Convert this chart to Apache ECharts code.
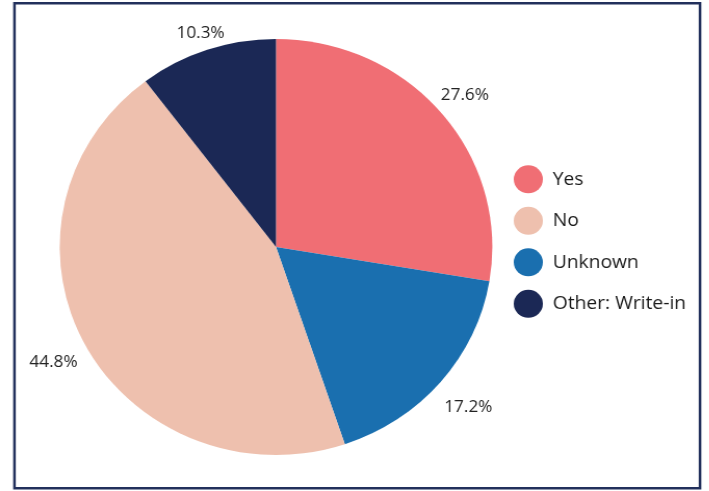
<!DOCTYPE html>
<html>
<head>
<meta charset="utf-8">
<script src="https://cdn.jsdelivr.net/npm/echarts@6/dist/echarts.min.js"></script>
<style>
  html, body { margin: 0; padding: 0; background: #ffffff; overflow: hidden; }
  /* the figure is drawn slightly narrower and widened to full width */
  #chart { width: 682px; height: 491px; transform: scaleX(1.04); transform-origin: 0 0; }
</style>
</head>
<body>
<div id="chart"></div>
<script>
// Slices in clockwise order starting from 12 o'clock
const categories = ['Yes', 'Unknown', 'No', 'Other: Write-in'];
const shares = [27.6, 17.2, 44.8, 10.3];
const colors = ['#F06E74', '#1A6FAF', '#EEC0AE', '#1B2855'];
// Legend reading order
const legendOrder = ['Yes', 'No', 'Unknown', 'Other: Write-in'];
// Radial offset of each percentage label beyond the rim
const labelOffsets = [30, 35, 34, 20];

const total = shares.reduce((a, b) => a + b, 0);
const midFractions = [];
let acc = 0;
shares.forEach(v => { midFractions.push((acc + v / 2) / total); acc += v; });

const chart = echarts.init(document.getElementById('chart'), null, { renderer: 'canvas' });

chart.setOption({
  animation: false,
  color: colors,
  textStyle: { fontFamily: 'Open Sans' },
  graphic: [{
    type: 'rect',
    shape: { x: 13.9, y: 3.25, width: 659.2, height: 485 },
    style: { fill: 'none', stroke: '#22305C', lineWidth: 2.5 },
    silent: true
  }],
  legend: {
    data: legendOrder,
    orient: 'vertical',
    left: 489,
    top: 160.3,
    icon: 'circle',
    itemWidth: 28,
    itemHeight: 28,
    itemGap: 13.5,
    textStyle: {
      fontFamily: 'Open Sans',
      fontSize: 18.5,
      color: '#1a1a1a',
      padding: [0, 0, 0, 4.5]
    }
  },
  series: [{
    type: 'pie',
    center: [265.4, 247],
    radius: 208,
    startAngle: 90,
    clockwise: true,
    avoidLabelOverlap: false,
    itemStyle: { borderWidth: 0 },
    label: {
      show: true,
      position: 'outside',
      fontFamily: 'Open Sans',
      fontSize: 16.5,
      color: '#222222',
      distanceToLabelLine: 0,
      formatter: p => p.value.toFixed(1) + '%'
    },
    labelLine: { show: false, length2: 0 },
    // centre each label on its anchor point
    labelLayout: p => {
      const right = midFractions[p.dataIndex] < 0.5;
      const w = p.labelRect.width;
      return { dx: right ? -w / 2 : w / 2, dy: 2.5 };
    },
    data: categories.map((name, i) => ({
      name: name,
      value: shares[i],
      labelLine: { show: false, length: labelOffsets[i], length2: 0 }
    }))
  }]
});
</script>
</body>
</html>
